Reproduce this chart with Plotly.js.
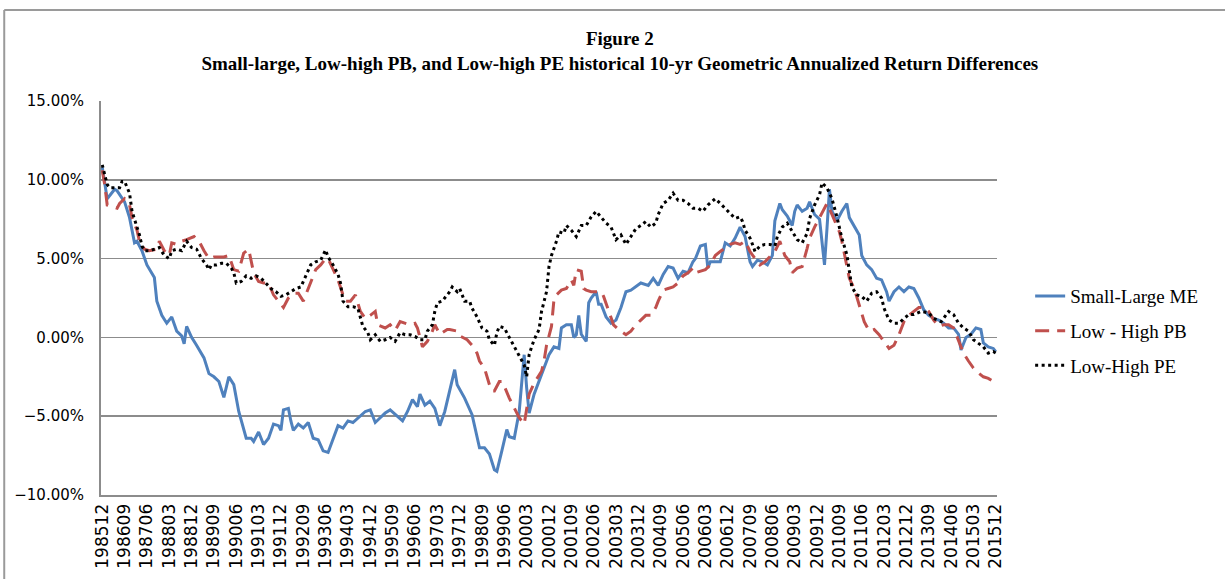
<!DOCTYPE html>
<html><head><meta charset="utf-8">
<script src="https://cdn.plot.ly/plotly-3.0.1.min.js"></script>
<style>html,body{margin:0;padding:0;background:#fff;} #chart{width:1225px;height:579px;}</style>
</head><body><div id="chart"></div>
<script>
// Tick labels shown on the category axis (every 9 months)
const tickLabels = ['198512','198609','198706','198803','198812','198909','199006','199103','199112','199209',
 '199306','199403','199412','199509','199606','199703','199712','199809','199906','200003',
 '200012','200109','200206','200303','200312','200409','200506','200603','200612','200709',
 '200806','200903','200912','201009','201106','201203','201212','201309','201406','201503','201512'];

// Small-Large ME
const smeDates = [
 '198512','198602','198605','198606','198609','198611','198701','198702','198704','198706',
 '198709','198710','198712','198802','198804','198806','198808','198809','198810','198812',
 '198902','198905','198907','198909','198911','199001','199003','199005','199007','199009',
 '199010','199012','199101','199103','199105','199107','199109','199111','199112','199201',
 '199203','199204','199205','199207','199209','199211','199301','199303','199305','199307',
 '199309','199311','199401','199403','199405','199407','199410','199412','199502','199504',
 '199506','199508','199510','199511','199601','199603','199605','199607','199608','199610',
 '199612','199702','199704','199706','199708','199710','199711','199802','199805','199807',
 '199808','199810','199812','199902','199903','199905','199907','199908','199910','199912',
 '200002','200003','200004','200006','200008','200010','200012','200102','200104','200105',
 '200107','200109','200110','200111','200112','200201','200203','200204','200205','200207',
 '200208','200209','200211','200301','200303','200305','200307','200309','200311','200401',
 '200404','200406','200408','200410','200412','200502','200504','200506','200508','200510',
 '200511','200601','200603','200604','200605','200607','200609','200611','200701','200703',
 '200705','200707','200709','200710','200712','200802','200804','200806','200807','200809',
 '200810','200812','200902','200903','200904','200906','200908','200909','200911','201001',
 '201003','201004','201005','201006','201008','201010','201012','201101','201103','201105',
 '201106','201108','201110','201112','201202','201204','201205','201207','201209','201211',
 '201301','201303','201305','201307','201309','201311','201401','201403','201405','201407',
 '201409','201410','201412','201502','201504','201506','201507','201509','201511','201512'];
const smeValues = [
 10.8, 8.8, 9.4, 9.3, 8.6, 7.6, 6.0, 6.1, 5.5, 4.6,
 3.8, 2.3, 1.4, 0.9, 1.3, 0.4, 0.1, -0.4, 0.7, 0.0,
 -0.5, -1.3, -2.3, -2.5, -2.8, -3.8, -2.5, -3.0, -4.7, -5.8,
 -6.4, -6.4, -6.6, -6.0, -6.8, -6.4, -5.5, -5.6, -5.9, -4.6,
 -4.5, -5.3, -5.9, -5.5, -5.75, -5.4, -6.4, -6.5, -7.2, -7.3,
 -6.4, -5.6, -5.75, -5.3, -5.4, -5.1, -4.7, -4.6, -5.4, -5.1,
 -4.8, -4.6, -4.9, -5.0, -5.3, -4.7, -3.95, -4.4, -3.6, -4.3,
 -4.05, -4.5, -5.6, -4.7, -3.4, -2.05, -3.0, -3.85, -4.9, -6.4,
 -7.0, -7.0, -7.4, -8.4, -8.5, -7.2, -5.85, -6.3, -6.4, -4.7,
 -1.1, -3.2, -4.8, -3.6, -2.8, -1.95, -1.1, -0.6, -0.7, 0.6,
 0.8, 0.8, 0.0, 0.17, 1.4, 0.2, -0.25, 2.2, 2.5, 2.9,
 2.1, 2.1, 1.3, 0.9, 1.1, 1.9, 2.9, 3.0, 3.2, 3.45,
 3.3, 3.75, 3.3, 4.0, 4.5, 4.4, 3.75, 4.2, 4.1, 4.8,
 5.0, 5.8, 5.9, 4.4, 4.8, 4.8, 4.8, 6.0, 5.8, 6.3,
 7.0, 6.4, 4.8, 4.5, 4.9, 4.8, 4.6, 5.2, 7.4, 8.5,
 8.1, 7.7, 7.1, 8.0, 8.4, 8.0, 8.2, 8.6, 7.8, 7.5,
 4.6, 6.9, 9.4, 8.0, 7.4, 8.0, 8.5, 7.6, 7.0, 6.5,
 5.2, 4.6, 4.3, 3.75, 3.65, 2.9, 2.3, 2.9, 3.2, 2.9,
 3.2, 3.1, 2.5, 1.75, 1.4, 1.2, 1.1, 0.9, 0.6, 0.6,
 0.2, -0.8, 0.0, 0.2, 0.6, 0.5, -0.35, -0.6, -0.7, -0.9];

// Low - High PB
const pbDates = [
 '198512','198601','198602','198604','198606','198607','198609','198611','198612','198702',
 '198703','198705','198707','198710','198711','198801','198803','198804','198806','198808',
 '198810','198901','198903','198905','198907','198909','198911','199001','199003','199005',
 '199007','199009','199011','199012','199101','199103','199105','199107','199109','199111',
 '199201','199203','199205','199207','199209','199210','199212','199302','199304','199306',
 '199307','199309','199311','199401','199402','199404','199406','199408','199410','199412',
 '199502','199503','199506','199508','199510','199512','199602','199604','199606','199607',
 '199609','199611','199701','199702','199704','199707','199708','199711','199712','199803',
 '199805','199807','199808','199810','199812','199901','199902','199904','199905','199906',
 '199908','199910','199912','200002','200003','200004','200006','200009','200010','200011',
 '200101','200102','200103','200105','200107','200109','200110','200111','200201','200202',
 '200203','200205','200207','200209','200210','200212','200302','200304','200307','200309',
 '200311','200401','200403','200405','200407','200408','200410','200412','200502','200504',
 '200506','200508','200510','200511','200601','200603','200605','200607','200609','200611',
 '200701','200703','200705','200707','200709','200711','200801','200803','200805','200807',
 '200809','200811','200901','200902','200904','200906','200908','200909','200911','201001',
 '201003','201004','201006','201007','201009','201010','201012','201101','201103','201105',
 '201107','201109','201111','201201','201203','201205','201207','201209','201211','201301',
 '201303','201305','201307','201309','201311','201401','201403','201405','201407','201409',
 '201411','201501','201503','201505','201507','201509','201511','201512'];
const pbValues = [
 10.6, 9.7, 8.4, 8.3, 8.2, 8.5, 8.8, 8.4, 7.6, 6.8,
 6.1, 5.6, 5.5, 5.6, 6.1, 5.5, 5.2, 6.0, 5.9, 6.1,
 6.2, 6.4, 6.1, 5.5, 5.0, 5.1, 5.1, 5.1, 5.2, 4.3,
 4.2, 5.35, 5.6, 4.8, 4.1, 3.55, 3.45, 3.45, 2.7, 2.3,
 1.9, 2.5, 2.8, 2.8, 2.3, 2.7, 3.55, 4.3, 4.6, 5.0,
 5.0, 4.3, 3.65, 2.7, 2.3, 2.3, 2.7, 1.65, 1.2, 1.4,
 1.65, 0.8, 0.6, 0.8, 0.45, 1.0, 0.9, 0.8, 0.9, 0.6,
 -0.6, -0.25, 0.4, 0.8, 0.2, 0.5, 0.5, 0.4, 0.1, -0.15,
 -0.5, -1.0, -1.5, -1.95, -3.0, -3.4, -3.4, -2.8, -2.8, -3.1,
 -3.85, -4.5, -5.1, -5.5, -4.5, -3.6, -2.9, -2.15, -1.5, -0.5,
 0.7, 2.4, 2.7, 3.0, 3.1, 3.65, 3.3, 4.3, 4.2, 3.1,
 3.0, 2.9, 2.9, 2.9, 2.6, 1.65, 0.8, 0.5, 0.17, 0.4,
 0.8, 1.1, 1.4, 1.4, 1.9, 2.3, 3.0, 3.1, 3.2, 3.45,
 3.9, 4.1, 4.4, 4.1, 4.2, 4.3, 4.6, 5.2, 5.45, 5.65,
 5.9, 6.0, 5.9, 6.1, 5.45, 5.0, 4.6, 4.8, 5.1, 5.45,
 6.1, 5.2, 4.8, 4.1, 4.4, 4.5, 5.65, 6.3, 7.0, 7.6,
 8.1, 8.5, 7.8, 7.4, 6.7, 6.1, 4.4, 3.75, 3.1, 2.1,
 1.0, 0.4, 0.5, 0.17, -0.25, -0.7, -0.5, 0.17, 1.0, 1.4,
 1.65, 1.9, 1.9, 1.65, 1.1, 0.7, 0.8, 0.8, 0.6, -0.25,
 -1.0, -1.5, -1.95, -2.25, -2.5, -2.6, -2.8, -3.0];

// Low-High PE
const peDates = [
 '198512','198602','198603','198605','198607','198608','198609','198611','198612','198702',
 '198703','198704','198705','198707','198709','198711','198801','198803','198804','198806',
 '198808','198810','198812','198902','198904','198906','198907','198908','198910','198912',
 '199002','199004','199005','199006','199008','199010','199012','199102','199104','199106',
 '199108','199110','199112','199202','199204','199206','199208','199210','199212','199302',
 '199304','199306','199307','199309','199311','199312','199401','199403','199405','199407',
 '199408','199409','199411','199412','199502','199504','199506','199508','199510','199512',
 '199602','199604','199606','199608','199610','199611','199701','199702','199703','199705',
 '199707','199708','199709','199711','199712','199802','199804','199805','199807','199809',
 '199811','199812','199902','199903','199904','199906','199908','199910','199912','200002',
 '200003','200004','200005','200006','200008','200009','200011','200012','200101','200103',
 '200104','200106','200107','200109','200111','200201','200203','200205','200207','200209',
 '200211','200301','200303','200305','200307','200309','200311','200401','200403','200405',
 '200407','200408','200410','200412','200502','200504','200506','200508','200510','200512',
 '200602','200604','200607','200609','200611','200701','200703','200705','200706','200707',
 '200709','200710','200711','200801','200803','200805','200807','200808','200810','200812',
 '200902','200904','200906','200908','200909','200911','201001','201002','201004','201006',
 '201008','201010','201012','201101','201102','201104','201106','201108','201110','201112',
 '201202','201203','201205','201207','201209','201211','201301','201303','201306','201309',
 '201311','201402','201405','201407','201409','201411','201501','201503','201505','201507',
 '201509','201511','201512'];
const peValues = [
 10.95, 9.7, 9.5, 9.5, 9.5, 9.9, 9.9, 9.15, 8.0, 7.0,
 6.5, 5.8, 5.5, 5.5, 5.6, 5.7, 5.2, 5.0, 5.5, 5.6,
 5.5, 6.1, 5.7, 5.6, 5.0, 4.6, 4.3, 4.6, 4.6, 4.7,
 4.7, 4.4, 4.1, 3.45, 3.55, 3.9, 3.75, 3.9, 3.75, 3.45,
 3.1, 2.9, 2.6, 2.7, 2.9, 3.1, 3.2, 3.9, 4.6, 4.8,
 4.9, 5.55, 5.1, 4.6, 4.0, 3.45, 2.3, 1.95, 1.95, 1.85,
 1.2, 0.7, 0.3, -0.15, 0.17, -0.25, -0.15, 0.0, -0.25, 0.3,
 0.17, 0.17, 0.06, -0.15, -0.15, 0.4, 0.8, 1.65, 2.2, 2.3,
 2.7, 2.9, 3.2, 2.9, 3.1, 2.3, 2.3, 1.85, 1.3, 0.6,
 0.4, -0.15, -0.5, 0.3, 0.7, 0.6, 0.0, -0.6, -1.1, -1.75,
 -2.5, -1.1, -0.6, -0.15, 0.5, 1.65, 2.9, 4.5, 5.2, 6.1,
 6.7, 6.6, 7.1, 6.8, 6.4, 7.1, 7.1, 7.65, 8.0, 7.65,
 7.25, 7.0, 6.2, 6.5, 5.9, 6.4, 6.9, 7.1, 7.35, 7.0,
 7.25, 7.8, 8.5, 8.7, 9.15, 8.7, 8.7, 8.5, 8.2, 8.2,
 8.0, 8.4, 8.8, 8.5, 8.2, 7.9, 7.55, 7.65, 7.35, 6.8,
 6.3, 5.9, 5.45, 5.8, 5.9, 5.9, 5.8, 6.4, 7.0, 7.25,
 6.7, 6.2, 6.0, 6.6, 7.55, 8.4, 9.05, 9.8, 9.5, 8.8,
 7.65, 6.3, 5.25, 4.2, 3.2, 2.7, 2.6, 2.3, 2.8, 2.9,
 2.5, 1.85, 1.1, 0.9, 0.9, 1.2, 1.45, 1.45, 1.65, 1.55,
 1.2, 1.0, 1.65, 1.45, 0.9, 0.6, 0.4, -0.15, -0.35, -0.6,
 -1.0, -0.9, -1.0];

// All monthly categories from 198512 to 201512
const months = [];
for (let y = 1985, m = 12; y < 2016; ) {
  months.push(String(y) + (m < 10 ? '0' + m : String(m)));
  m++; if (m > 12) { m = 1; y++; }
}

const traces = [
  {x: smeDates, y: smeValues, name: 'Small-Large ME', type: 'scatter', mode: 'lines',
   legendgroup: 'a', line: {color: '#4F81BD', width: 3}},
  {x: pbDates, y: pbValues, name: 'Low - High PB', type: 'scatter', mode: 'lines',
   legendgroup: 'b', line: {color: '#C0504D', width: 3, dash: '14px,8px'}},
  {x: peDates, y: peValues, name: 'Low-High PE', type: 'scatter', mode: 'lines',
   legendgroup: 'c', line: {color: '#000000', width: 3, dash: '3px,3.5px'}}
];

const layout = {
  width: 1225, height: 579,
  margin: {l: 101, r: 228, t: 101, b: 84, pad: 0},
  paper_bgcolor: '#ffffff', plot_bgcolor: '#ffffff',
  title: {
    text: '<b>Figure 2</b><br><b>Small-large, Low-high PB, and Low-high PE historical 10-yr Geometric Annualized Return Differences</b>',
    font: {family: 'Liberation Serif, serif', size: 19, color: '#000'},
    x: 0.506, xref: 'container', xanchor: 'center',
    y: 0.922, yref: 'container', yanchor: 'middle'
  },
  xaxis: {
    type: 'category', categoryorder: 'array', categoryarray: months,
    range: [-0.5, months.length - 0.5],
    tickmode: 'array', tickvals: tickLabels, ticktext: tickLabels,
    tickangle: -90, ticks: '',
    tickfont: {family: 'DejaVu Sans, sans-serif', size: 17, color: '#000'},
    showgrid: false, showline: true, linecolor: '#8c8c8c', linewidth: 2,
    zeroline: false, fixedrange: true
  },
  yaxis: {
    range: [-10, 15], tickmode: 'linear', tick0: -10, dtick: 5,
    tickformat: '.2f', ticksuffix: '%', ticks: '',
    ticklabelstandoff: 12,
    tickfont: {family: 'DejaVu Sans, sans-serif', size: 15, color: '#000'},
    showgrid: true, gridcolor: '#8c8c8c', gridwidth: 1.5,
    showline: true, linecolor: '#8c8c8c', linewidth: 2,
    zeroline: false, fixedrange: true
  },
  showlegend: true,
  legend: {
    x: 1.037, xanchor: 'left', y: 0.553, yanchor: 'top',
    traceorder: 'grouped', tracegroupgap: 7,
    font: {family: 'Liberation Serif, serif', size: 19, color: '#000'},
    bgcolor: 'rgba(0,0,0,0)'
  },
  shapes: [
    {type: 'line', xref: 'paper', yref: 'paper', x0: -0.108, x1: 1.26, y0: 1.231, y1: 1.231,
     line: {color: '#9a9a9a', width: 2}},
    {type: 'line', xref: 'paper', yref: 'paper', x0: -0.108, x1: -0.108, y0: 1.231, y1: -0.25,
     line: {color: '#9a9a9a', width: 2}}
  ]
};

Plotly.newPlot('chart', traces, layout, {displayModeBar: false, staticPlot: true});
</script></body></html>
